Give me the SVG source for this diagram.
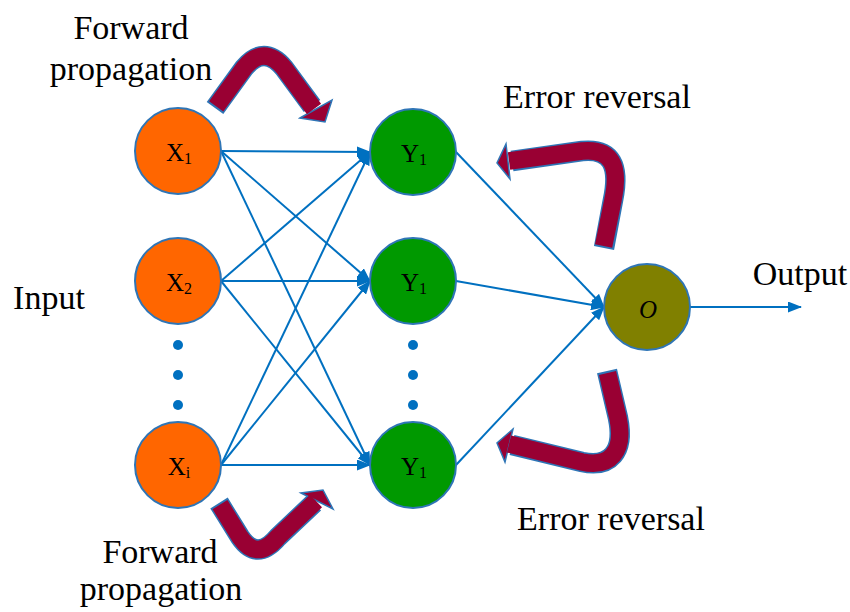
<svg xmlns="http://www.w3.org/2000/svg" width="850" height="612" viewBox="0 0 850 612">
<style>
.lbl{font-family:"Liberation Serif","DejaVu Serif",serif;font-size:34px;fill:#000}
.nl{font-family:"Liberation Serif","DejaVu Serif",serif;font-size:25px;fill:#000;text-anchor:middle}
.sub{font-size:16px}
.node{stroke:#2E75B6;stroke-width:2}
.xn{fill:#FF6600}
.yn{fill:#009900}
.on{fill:#808000}
.edge{stroke:#0070C0;stroke-width:2;fill:none;marker-end:url(#ah)}
.dot{fill:#0070C0}
.bo{fill:none;stroke:#2E75B6;stroke-width:20.5}
.bi{fill:none;stroke:#990033;stroke-width:17.5}
.hd{fill:#990033;stroke:#2E75B6;stroke-width:1.5;stroke-linejoin:miter}
</style>
<defs>
<marker id="ah" markerUnits="userSpaceOnUse" markerWidth="14" markerHeight="11" refX="13" refY="5.5" orient="auto">
<path d="M0,0 L14,5.5 L0,11 z" fill="#0070C0"/>
</marker>
</defs>
<rect width="850" height="612" fill="#fff"/>

<g id="connectors">
<line class="edge" x1="221" y1="151" x2="370" y2="152"/>
<line class="edge" x1="221" y1="151" x2="370" y2="281"/>
<line class="edge" x1="221" y1="151" x2="370" y2="465"/>
<line class="edge" x1="221" y1="281" x2="370" y2="152"/>
<line class="edge" x1="221" y1="281" x2="370" y2="281"/>
<line class="edge" x1="221" y1="281" x2="370" y2="465"/>
<line class="edge" x1="221" y1="465" x2="370" y2="152"/>
<line class="edge" x1="221" y1="465" x2="370" y2="281"/>
<line class="edge" x1="221" y1="465" x2="370" y2="465"/>
<line class="edge" x1="456" y1="152" x2="604" y2="307"/>
<line class="edge" x1="456" y1="281" x2="604" y2="307"/>
<line class="edge" x1="456" y1="465" x2="604" y2="307"/>
<line class="edge" x1="690" y1="307" x2="801" y2="307"/>
</g>

<g id="x1"><circle class="node xn" cx="178" cy="151" r="43"/><text class="nl" x="179" y="161">X<tspan class="sub" dy="3">1</tspan></text></g>
<g id="x2"><circle class="node xn" cx="178" cy="281" r="43"/><text class="nl" x="179" y="291">X<tspan class="sub" dy="3">2</tspan></text></g>
<g id="xi"><circle class="node xn" cx="178" cy="465" r="43"/><text class="nl" x="179" y="475">X<tspan class="sub" dy="3">i</tspan></text></g>
<g id="y1"><circle class="node yn" cx="413" cy="152" r="43"/><text class="nl" x="414" y="162">Y<tspan class="sub" dy="3">1</tspan></text></g>
<g id="y2"><circle class="node yn" cx="413" cy="281" r="43"/><text class="nl" x="414" y="291">Y<tspan class="sub" dy="3">1</tspan></text></g>
<g id="y3"><circle class="node yn" cx="413" cy="465" r="43"/><text class="nl" x="414" y="475">Y<tspan class="sub" dy="3">1</tspan></text></g>
<g id="o"><circle class="node on" cx="647" cy="307" r="43"/><text class="nl" x="648" y="318" font-style="italic">O</text></g>

<g id="dots">
<circle class="dot" cx="178" cy="345" r="5"/><circle class="dot" cx="178" cy="375" r="5"/><circle class="dot" cx="178" cy="405" r="5"/>
<circle class="dot" cx="413" cy="345" r="5"/><circle class="dot" cx="413" cy="375" r="5"/><circle class="dot" cx="413" cy="405" r="5"/>
</g>

<g id="arrow-forward-top">
<path class="bo" d="M215,108 L244,68 Q264,44 284,68 L312,106"/>
<polygon class="hd" points="300,118 332,100 325,122"/>
<path class="bi" d="M216.2,106.4 L244,68 Q264,44 284,68 L314,109"/>
</g>
<g id="arrow-forward-bottom">
<path class="bo" d="M219,503 L240,537 Q257,562 278,537 L314,503"/>
<polygon class="hd" points="301,493 333,509 323,490"/>
<path class="bi" d="M220,504.7 L240,537 Q257,562 278,537 L316,501"/>
</g>
<g id="arrow-error-top">
<path class="bo" d="M604,248 L613,200 C620,166 612,148 582,151 L512,161"/>
<polygon class="hd" points="510,179 506,144 497,163"/>
<path class="bi" d="M603.6,246 L613,200 C620,166 612,148 582,151 L509,161"/>
</g>
<g id="arrow-error-bottom">
<path class="bo" d="M607,371 L618,418 C625,452 610,468 582,462 L512,445"/>
<polygon class="hd" points="513,429 505,462 497,443"/>
<path class="bi" d="M607.5,373 L618,418 C625,452 610,468 582,462 L509,444"/>
</g>

<g id="labels">
<text class="lbl" x="131" y="39" text-anchor="middle">Forward</text>
<text class="lbl" x="131" y="80" text-anchor="middle">propagation</text>
<text class="lbl" x="160" y="563" text-anchor="middle">Forward</text>
<text class="lbl" x="161" y="600" text-anchor="middle">propagation</text>
<text class="lbl" x="597" y="108" text-anchor="middle">Error reversal</text>
<text class="lbl" x="611" y="530" text-anchor="middle">Error reversal</text>
<text class="lbl" x="49" y="309" text-anchor="middle">Input</text>
<text class="lbl" x="800" y="285" text-anchor="middle">Output</text>
</g>
</svg>
